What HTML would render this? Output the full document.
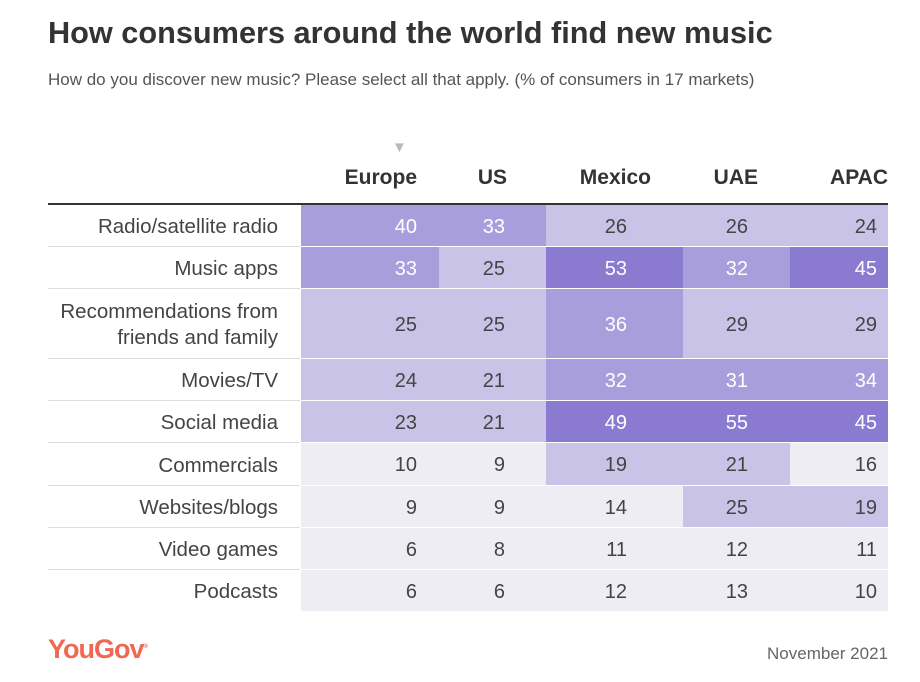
<!DOCTYPE html>
<html><head><meta charset="utf-8">
<style>
body{margin:0;background:#fff;font-family:"Liberation Sans",sans-serif;}
#wrap{position:relative;width:920px;height:682px;overflow:hidden;}
.t{position:absolute;white-space:nowrap;}
</style></head>
<body>
<div id="wrap">
<div class="t" style="left:48px;top:15px;font-size:30.7px;font-weight:bold;color:#333;">How consumers around the world find new music</div>
<div class="t" style="left:48px;top:70px;font-size:17px;color:#555;">How do you discover new music? Please select all that apply. (% of consumers in 17 markets)</div>
<div class="t" style="left:392px;top:139px;font-size:15px;color:#bbb;">▼</div>
<div id="table"></div>
<div class="t" style="left:48px;top:634px;font-size:27px;font-weight:bold;color:#f26654;letter-spacing:-1px;">YouGov<sup style="font-size:6px">®</sup></div>
<div class="t" style="right:32px;top:644px;font-size:17px;color:#666;">November 2021</div>
</div>
<script>
const columns=["Europe","US","Mexico","UAE","APAC"];
const categories=["Radio/satellite radio","Music apps","Recommendations from|friends and family","Movies/TV","Social media","Commercials","Websites/blogs","Video games","Podcasts"];
const europe=[40,33,25,24,23,10,9,6,6];
const us=[33,25,25,21,21,9,9,8,6];
const mexico=[26,53,36,32,49,19,14,11,12];
const uae=[26,32,29,31,55,21,25,12,13];
const apac=[24,45,29,34,45,16,19,11,10];
const series=[europe,us,mexico,uae,apac];

const wrap=document.getElementById('table');
const colEdges=[301,439,546,683,790,888];
const numRight=[417,505,627,748,877];
const headRight=[417,507,651,758,888];
const rowEdges=[205,247,289,359,401,443,486,528,570,612];
function color(v){if(v>=45)return '#8a7bd1';if(v>=30)return '#a89edc';if(v>=17)return '#c9c3e7';return '#efedf4';}
function mk(style,text){const d=document.createElement('div');d.className='t';d.style.cssText=style;if(text!==undefined)d.textContent=text;wrap.appendChild(d);return d;}
columns.forEach((c,i)=>{
  const h=mk(`right:${920-headRight[i]}px;top:166px;font-size:21px;font-weight:bold;color:#333;`,c);
  
  
});
const hl=mk('left:48px;top:203px;width:840px;height:2px;background:#333;');


categories.forEach((cat,r)=>{
  const y0=rowEdges[r],y1=rowEdges[r+1],hgt=y1-y0;
  const lines=cat.split('|');
  const lb=mk(`right:${920-278}px;top:${y0+1}px;height:${hgt}px;display:flex;flex-direction:column;justify-content:center;text-align:right;font-size:20.5px;line-height:26px;color:#444;`);
  lb.innerHTML=lines.join('<br>');
  
  
  if(r<categories.length-1){
    const sep=mk(`left:48px;top:${y1-1}px;width:252px;height:1px;background:#ddd;`);
    
    
  }
  series.forEach((s,c)=>{
    const v=s[r];
    const cell=mk(`left:${colEdges[c]}px;top:${y0}px;width:${colEdges[c+1]-colEdges[c]}px;height:${hgt-1}px;background:${color(v)};`);
    
    
    const n=mk(`right:${920-numRight[c]}px;top:${y0+1}px;line-height:${hgt}px;font-size:20px;color:${v>=30?'#fff':'#444'};`,String(v));
    
    
  });
});
</script>
</body></html>
